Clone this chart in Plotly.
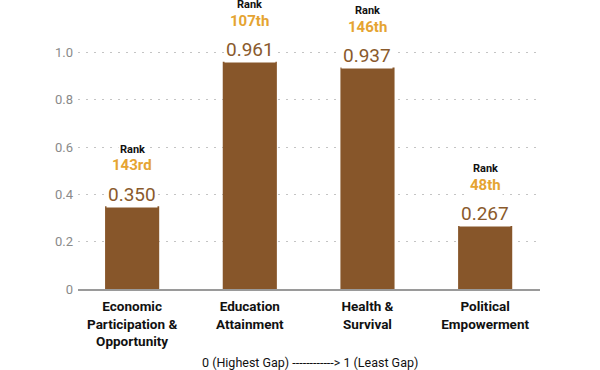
import plotly.graph_objects as go

categories = ["Economic<br>Participation &<br>Opportunity", "Education<br>Attainment",
              "Health &<br>Survival", "Political<br>Empowerment"]
values = [0.350, 0.961, 0.937, 0.267]
value_labels = ["0.350", "0.961", "0.937", "0.267"]
ranks = ["143rd", "107th", "146th", "48th"]
y_tickvals = [0, 0.2, 0.4, 0.6, 0.8, 1.0]
y_ticktext = ["0", "0.2", "0.4", "0.6", "0.8", "1.0"]

BAR = "#87562A"
ORANGE = "#E5A432"
FONT = "Roboto"

fig = go.Figure(go.Bar(
    x=list(range(len(categories))), y=values, width=0.46,
    marker=dict(color=BAR, line=dict(width=0)),
    hoverinfo="skip",
))

ann = []
for i, (v, lab, r) in enumerate(zip(values, value_labels, ranks)):
    ann.append(dict(x=i, y=v, xref="x", yref="y", text=lab, showarrow=False,
                    yanchor="middle", yshift=12, bgcolor="white", borderpad=1,
                    font=dict(family=FONT, size=19, color="#8A5A2C")))
    ann.append(dict(x=i, y=v, xref="x", yref="y", text="<b>" + r + "</b>", showarrow=False,
                    yanchor="middle", yshift=41, bgcolor="white",
                    font=dict(family=FONT, size=15, color=ORANGE)))
    ann.append(dict(x=i, y=v, xref="x", yref="y", text="<b>Rank</b>", showarrow=False,
                    yanchor="middle", yshift=57, bgcolor="white",
                    font=dict(family=FONT, size=11, color="#111111")))

ann.append(dict(x=0.502, y=-0.281, xref="paper", yref="paper",
                text="0 (Highest Gap) ------------> 1 (Least Gap)", showarrow=False,
                yanchor="middle", font=dict(family=FONT, size=12.5, color="#111111")))

fig.update_layout(
    width=600, height=370,
    margin=dict(l=78, r=60, t=29.4, b=81, autoexpand=False),
    paper_bgcolor="white", plot_bgcolor="white",
    showlegend=False,
    annotations=ann,
    font=dict(family=FONT),
    xaxis=dict(
        tickmode="array", tickvals=list(range(len(categories))),
        ticktext=["<b>" + c + "</b>" for c in categories],
        range=[-0.46, 3.466], showgrid=False, zeroline=False,
        showline=True, linecolor="#9a9a9a", linewidth=1.5,
        tickfont=dict(family=FONT, size=13.5, color="#111111"),
        ticks="", ticklabelstandoff=4, automargin=False,
    ),
    yaxis=dict(
        range=[0, 1.1], tickmode="array", tickvals=y_tickvals, ticktext=y_ticktext,
        showgrid=True, gridcolor="#c4c4c4", griddash="2px,6px", gridwidth=1.2,
        zeroline=False, showline=False,
        tickfont=dict(family=FONT, size=13, color="#8a8a8a"),
        ticks="", ticklabelstandoff=4, automargin=False,
    ),
)

fig.write_html("out.html", config={"displayModeBar": False},
               post_script="document.body.style.margin='0';document.body.style.overflow='hidden';")
